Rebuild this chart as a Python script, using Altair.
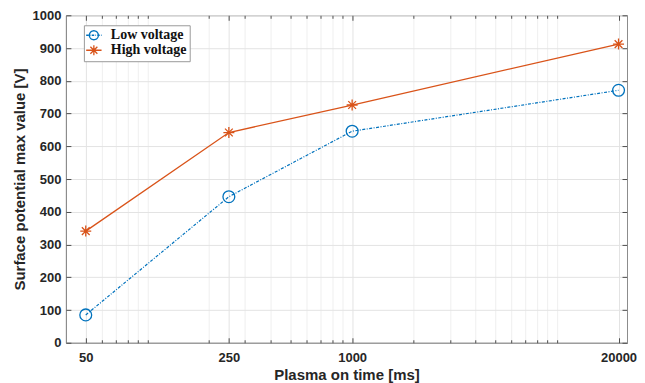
import math
import altair as alt
import pandas as pd

# ---- data ----
plasma_time = [50, 250, 1000, 20000]
low_voltage = [85, 446, 646, 771]
high_voltage = [341, 642, 726, 912]
series_names = ["Low voltage", "High voltage"]

x_tick_values = [50, 250, 1000, 20000]
x_minor_values = [60, 70, 80, 90, 100, 200, 300, 400, 500, 600, 700, 800, 900,
                  2000, 3000, 4000, 5000, 6000, 7000, 8000, 9000, 10000]
y_tick_values = [0, 100, 200, 300, 400, 500, 600, 700, 800, 900, 1000]
x_domain = [40, 22000]
y_domain = [0, 1000]

BLUE = "#0072BD"
ORANGE = "#D95319"
TEXT = "#262626"
FONT = "Liberation Sans"

df = pd.DataFrame({
    "time": plasma_time + plasma_time,
    "value": low_voltage + high_voltage,
    "series": [series_names[0]] * len(plasma_time) + [series_names[1]] * len(plasma_time),
})


# ---- marker shapes (SVG paths in unit coordinates) ----
def fmt(v):
    return f"{v:.3f}".rstrip("0").rstrip(".")


def circle_path(r, n=36):
    pts = [(r * math.cos(2 * math.pi * i / n), r * math.sin(2 * math.pi * i / n)) for i in range(n)]
    return "M" + "L".join(f"{fmt(x)},{fmt(y)}" for x, y in pts) + "Z"


def asterisk_path(a):
    d = a * 0.7071
    return (f"M{fmt(-a)},0L{fmt(a)},0M0,{fmt(-a)}L0,{fmt(a)}"
            f"M{fmt(-d)},{fmt(-d)}L{fmt(d)},{fmt(d)}M{fmt(-d)},{fmt(d)}L{fmt(d)},{fmt(-d)}")


def dashdot_line(x0, x1, pattern):
    segs, x, i = [], x0, 0
    while x < x1:
        length, gap = pattern[i % len(pattern)]
        end = min(x + length, x1)
        segs.append(f"M{fmt(x)},0L{fmt(end)},0")
        x = end + gap
        i += 1
    return "".join(segs)


ASTERISK = asterisk_path(1.0)
legend_low = dashdot_line(-1.4, 1.4, [(0.45, 0.22), (0.12, 0.22)]) + circle_path(0.82)
legend_high = "M-1.4,0L1.4,0" + asterisk_path(0.9)

# ---- scales ----
x_scale = alt.Scale(type="log", domain=x_domain, nice=False)
y_scale = alt.Scale(domain=y_domain, nice=False, zero=False)
color_scale = alt.Scale(domain=series_names, range=[BLUE, ORANGE])
shape_scale = alt.Scale(domain=series_names, range=[legend_low, legend_high])

# ---- axes ----
main_x_axis = alt.Axis(
    values=x_tick_values, format="d", title="Plasma on time [ms]", orient="bottom",
    ticks=False, labelPadding=9, labelFont=FONT, labelFontSize=13, labelFontWeight="bold",
    labelColor=TEXT, labelFlush=False, labelOverlap=False,
    titleFont=FONT, titleFontSize=15, titleFontWeight="bold", titleColor=TEXT,
    titleY=37, titleBaseline="alphabetic",
    domainColor="#8c8c8c", grid=True, gridColor="#e3e3e3",
)
main_y_axis = alt.Axis(
    values=y_tick_values, format="d", title="Surface potential max value [V]", orient="left",
    ticks=False, labelPadding=5, labelFont=FONT, labelFontSize=13, labelFontWeight="bold",
    labelColor=TEXT, labelFlush=False, labelOverlap=False,
    titleFont=FONT, titleFontSize=15, titleFontWeight="bold", titleColor=TEXT,
    titleX=-41, titleBaseline="alphabetic",
    domainColor="#8c8c8c", grid=True, gridColor="#e3e3e3",
)


def tick_axis(orient, values, size, grid=False):
    return alt.Axis(
        orient=orient, values=values, offset=-size, tickSize=size, ticks=True,
        labels=False, domain=False, grid=grid, gridColor="#efefef", title=None,
        tickColor="#4d4d4d", tickWidth=1,
    )


def xenc(axis):
    return alt.X("time:Q", scale=x_scale, axis=axis)


def yenc(axis):
    return alt.Y("value:Q", scale=y_scale, axis=axis)


base = alt.Chart(df)
low = base.transform_filter(alt.datum.series == series_names[0])
high = base.transform_filter(alt.datum.series == series_names[1])

low_line = low.mark_line(color=BLUE, strokeWidth=1.2, strokeDash=[3, 1.5, 1, 1.5]).encode(
    x=xenc(main_x_axis), y=yenc(main_y_axis))
high_line = high.mark_line(color=ORANGE, strokeWidth=1.3).encode(
    x=xenc(tick_axis("bottom", x_tick_values, 5)), y=yenc(tick_axis("left", y_tick_values, 5)))
low_pts = low.mark_point(shape="circle", size=140, filled=False, color=BLUE, strokeWidth=1.3,
                         opacity=1).encode(
    x=xenc(tick_axis("bottom", x_minor_values, 3, grid=True)),
    y=yenc(tick_axis("right", y_tick_values, 5)))
high_pts = high.mark_point(shape=ASTERISK, size=121, filled=False, color=ORANGE, strokeWidth=1.3,
                           opacity=1).encode(
    x=xenc(tick_axis("top", x_tick_values, 5)), y=yenc(None))

legend = alt.Legend(
    orient="none", legendX=18, legendY=10, title=None,
    symbolSize=121, symbolStrokeWidth=1.3, symbolOpacity=1,
    labelFont="Liberation Serif", labelFontSize=14, labelFontWeight="bold", labelColor="#111111",
    labelOffset=10, padding=3, rowPadding=-1,
    strokeColor="#9a9a9a", fillColor="white",
)
legend_layer = base.mark_point(opacity=0, filled=False).encode(
    x=xenc(tick_axis("top", x_minor_values, 3)), y=yenc(None),
    color=alt.Color("series:N", scale=color_scale, legend=legend),
    shape=alt.Shape("series:N", scale=shape_scale, legend=legend),
)

chart = alt.layer(low_line, high_line, low_pts, high_pts, legend_layer).resolve_axis(
    x="independent", y="independent"
).properties(
    width=562, height=328,
    autosize=alt.AutoSizeParams(type="none"),
    padding={"left": 58, "top": 7, "right": 10, "bottom": 40},
).configure_view(stroke="#8c8c8c", strokeWidth=1)

chart.save("out.html", embed_options={"renderer": "svg", "actions": False})
